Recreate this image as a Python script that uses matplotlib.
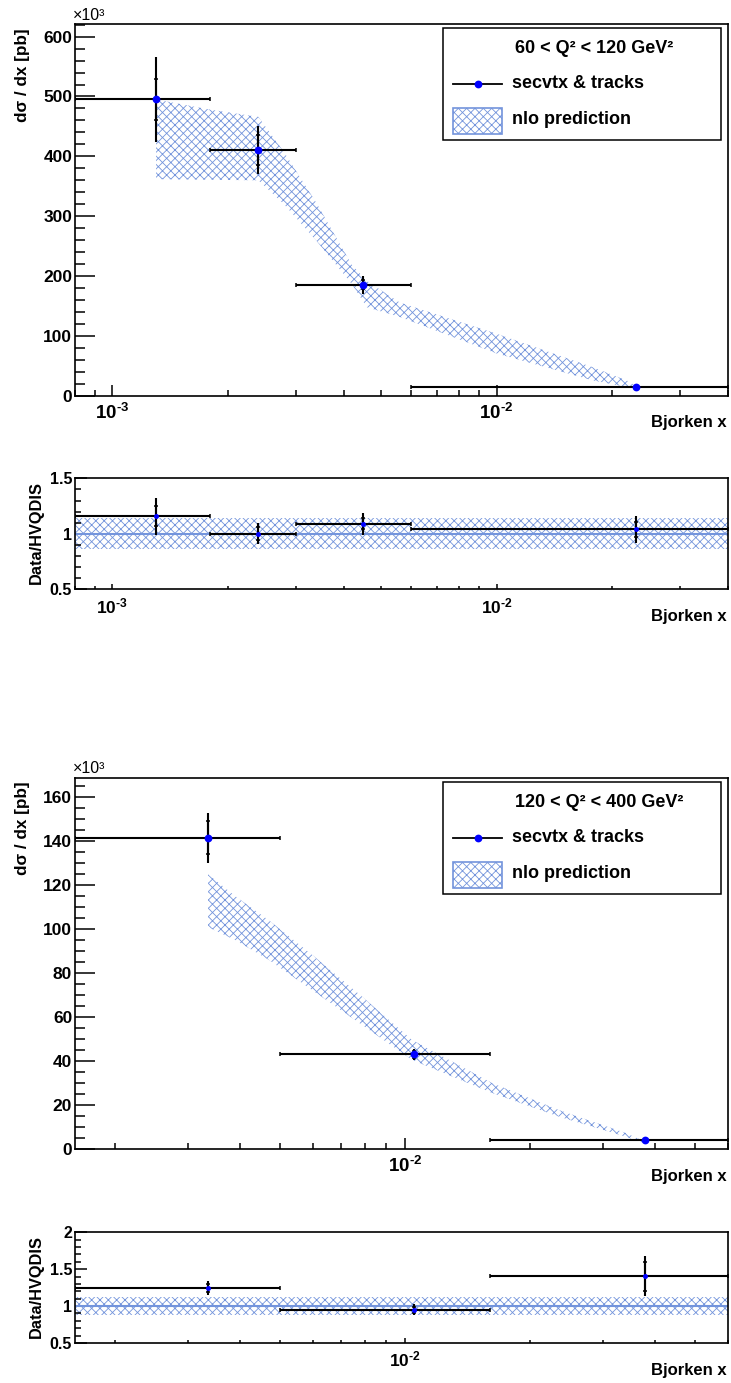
import numpy as np
import matplotlib
matplotlib.use("Agg")
import matplotlib.pyplot as plt
from matplotlib.patches import Rectangle
from matplotlib.lines import Line2D
from matplotlib.ticker import FixedLocator, LogLocator, MultipleLocator, NullFormatter, FuncFormatter

plt.rcParams['font.family'] = ['Liberation Sans', 'DejaVu Sans']
plt.rcParams['font.weight'] = 'bold'
plt.rcParams['mathtext.fontset'] = 'custom'
plt.rcParams['mathtext.rm'] = 'Liberation Sans:bold'
plt.rcParams['mathtext.it'] = 'Liberation Sans:bold'
plt.rcParams['mathtext.bf'] = 'Liberation Sans:bold'
plt.rcParams['hatch.linewidth'] = 0.6

W, H = 731, 1383
BAND = '#7394dc'
HATCH = 'xxxx'

# ---- 60 < Q2 < 120 GeV2 (cross section in 10^3 pb)
q1_title = '60 < Q² < 120 GeV²'
q1_edges = [0.0008, 0.0018, 0.003, 0.006, 0.04]
q1_x = [0.0013, 0.0024, 0.0045, 0.023]
q1_y = [495, 410, 186, 15]
q1_tot = [71, 40, 15, 3]
q1_stat = [35, 25, 8, 1.5]
q1_nlo_x = [0.0013, 0.0018, 0.0024, 0.0028, 0.0034, 0.0042, 0.0046, 0.0056, 0.0100, 0.0178, 0.0218, 0.0230]
q1_nlo_hi = [495, 478, 466, 407, 322, 219, 192, 156, 104, 48, 26, 17]
q1_nlo_lo = [362, 361, 360, 320, 259, 187, 148, 132, 71, 26, 15, 12]
q1_ratio = [1.158, 1.0, 1.089, 1.04]
q1_ratio_tot = [0.165, 0.093, 0.1, 0.12]
q1_ratio_stat = [0.09, 0.06, 0.05, 0.07]
q1_rband_hi = [1.145, 1.14, 1.14, 1.14]
q1_rband_lo = [0.862, 0.863, 0.863, 0.863]

# ---- 120 < Q2 < 400 GeV2
q2_title = '120 < Q² < 400 GeV²'
q2_edges = [0.0016, 0.005, 0.016, 0.06]
q2_x = [0.00334, 0.0105, 0.0378]
q2_y = [141.6, 43.1, 4.1]
q2_tot = [11.5, 2.5, 0.6]
q2_stat = [7.5, 1.5, 0.3]
q2_nlo_x = [0.00335, 0.0039, 0.0047, 0.0060, 0.0078, 0.0104, 0.0162, 0.0235, 0.0340, 0.0372]
q2_nlo_hi = [125, 115, 104, 88, 70, 49.6, 30, 17.7, 7.3, 4.0]
q2_nlo_lo = [101, 95, 86, 72, 57, 40.5, 25.5, 14.7, 5.6, 3.0]
q2_ratio = [1.245, 0.952, 1.404]
q2_ratio_tot = [0.095, 0.07, 0.27]
q2_ratio_stat = [0.06, 0.04, 0.2]
q2_rband_hi = [1.13, 1.13, 1.13]
q2_rband_lo = [0.885, 0.885, 0.885]


def add_axes(fig, left, top, right, bottom):
    return fig.add_axes([left / W, 1 - bottom / H, (right - left) / W, (bottom - top) / H])


def ftext(fig, x, y, s, **kw):
    return fig.text(x / W, 1 - y / H, s, **kw)


def log_label(v, pos):
    return r'$\mathregular{10^{\text{-}%d}}$' % abs(round(np.log10(v)))


def style_axes(ax, xlim, ylim, ymajor, yminor, ylen, xlen, fs):
    ax.set_xscale('log')
    ax.set_xlim(*xlim)
    ax.set_ylim(*ylim)
    ax.xaxis.set_major_locator(FixedLocator([1e-3, 1e-2, 1e-1]))
    ax.xaxis.set_minor_locator(LogLocator(base=10, subs=np.arange(2, 10), numticks=30))
    ax.xaxis.set_minor_formatter(NullFormatter())
    ax.xaxis.set_major_formatter(FuncFormatter(log_label))
    ax.yaxis.set_major_locator(MultipleLocator(ymajor))
    ax.yaxis.set_minor_locator(MultipleLocator(yminor))
    ax.yaxis.set_major_formatter(FuncFormatter(lambda v, p: '%g' % v))
    ax.tick_params(which='both', direction='in', top=False, right=False, width=1.1, labelsize=fs)
    ax.tick_params(axis='y', which='major', length=ylen, pad=2)
    ax.tick_params(axis='y', which='minor', length=ylen / 2)
    ax.tick_params(axis='x', which='major', length=xlen, pad=5, labelsize=fs + 1)
    ax.tick_params(axis='x', which='minor', length=xlen * 0.55)
    for s in ax.spines.values():
        s.set_linewidth(1.2)


def draw_points(ax, x, y, edges, tot, stat, ms):
    xlo = [xi - e for xi, e in zip(x, edges[:-1])]
    xhi = [e - xi for xi, e in zip(x, edges[1:])]
    ax.errorbar(x, y, xerr=[xlo, xhi], fmt='none', ecolor='black', elinewidth=1.5,
                capsize=1.6, capthick=1.1, zorder=3)
    ax.errorbar(x, y, yerr=tot, fmt='none', ecolor='black', elinewidth=1.5, capsize=0, zorder=3)
    ax.errorbar(x, y, yerr=stat, fmt='none', ecolor='black', elinewidth=1.5,
                capsize=1.6, capthick=1.1, zorder=3)
    ax.plot(x, y, 'o', color='#0000ff', ms=ms, mew=0, zorder=5)


def draw_main(fig, top, bottom, ylim, ymajor, yminor, edges, x, y, tot, stat, nx, nhi, nlo, title):
    ax = add_axes(fig, 75, top, 728, bottom)
    style_axes(ax, (edges[0], edges[-1]), ylim, ymajor, yminor, 14.4, 8.2, 12.5)
    ax.fill_between(nx, nlo, nhi, facecolor='none', edgecolor=BAND, hatch=HATCH,
                    linewidth=0, zorder=1)
    draw_points(ax, x, y, edges, tot, stat, 5.6)
    ftext(fig, 23, top + 4, 'dσ / dx [pb]', rotation=90, ha='center', va='top', fontsize=12.3)
    ftext(fig, 73, top - 9, '×10³', ha='left', va='center', fontsize=11.5, fontweight='normal')
    ftext(fig, 727, bottom + 27, 'Bjorken x', ha='right', va='center', fontsize=12)

    # legend box
    lt = top + 4.3
    fig.add_artist(Rectangle((442.7 / W, 1 - (lt + 111.7) / H), 278 / W, 111.7 / H,
                             transform=fig.transFigure, facecolor='white',
                             edgecolor='black', linewidth=1.1, zorder=6))
    ftext(fig, 515, lt + 20.5, title, ha='left', va='center', fontsize=13, zorder=7)
    ye = 1 - (lt + 55.7) / H
    fig.add_artist(Line2D([453 / W, 502 / W], [ye, ye], transform=fig.transFigure,
                          color='black', lw=1.3, zorder=7))
    fig.add_artist(Line2D([477.5 / W], [ye], transform=fig.transFigure, marker='o',
                          color='#0000ff', ms=5.6, mew=0, zorder=8))
    ftext(fig, 512, lt + 55.7, 'secvtx & tracks', ha='left', va='center', fontsize=13, zorder=7)
    fig.add_artist(Rectangle((453.3 / W, 1 - (lt + 106) / H), 48.4 / W, 26 / H,
                             transform=fig.transFigure, facecolor='white', edgecolor=BAND,
                             hatch=HATCH, linewidth=1.2, zorder=7))
    ftext(fig, 512, lt + 91.7, 'nlo prediction', ha='left', va='center', fontsize=13, zorder=7)
    return ax


def draw_ratio(fig, top, bottom, ylim, edges, x, r, rtot, rstat, bhi, blo):
    ax = add_axes(fig, 75, top, 728, bottom)
    style_axes(ax, (edges[0], edges[-1]), ylim, 0.5, 0.1, 8.8, 3.5, 11.5)
    ax.fill_between(edges, bhi + [bhi[-1]], blo + [blo[-1]], step='post', facecolor='none',
                    edgecolor=BAND, hatch=HATCH, linewidth=0, zorder=1)
    ax.axhline(1.0, color=BAND, lw=1.5, zorder=2)
    draw_points(ax, x, r, edges, rtot, rstat, 3.6)
    ftext(fig, 36, top + 3, 'Data/HVQDIS', rotation=90, ha='center', va='top', fontsize=11.8)
    ftext(fig, 727, bottom + 27, 'Bjorken x', ha='right', va='center', fontsize=12)
    return ax


fig = plt.figure(figsize=(W / 100, H / 100), dpi=100)

draw_main(fig, 24, 396, (0, 621), 100, 20, q1_edges, q1_x, q1_y, q1_tot, q1_stat,
          q1_nlo_x, q1_nlo_hi, q1_nlo_lo, q1_title)
draw_ratio(fig, 478.3, 589.3, (0.5, 1.5), q1_edges, q1_x, q1_ratio, q1_ratio_tot,
           q1_ratio_stat, q1_rband_hi, q1_rband_lo)
draw_main(fig, 777.7, 1149, (0, 169), 20, 5, q2_edges, q2_x, q2_y, q2_tot, q2_stat,
          q2_nlo_x, q2_nlo_hi, q2_nlo_lo, q2_title)
draw_ratio(fig, 1232.3, 1343, (0.5, 2.0), q2_edges, q2_x, q2_ratio, q2_ratio_tot,
           q2_ratio_stat, q2_rband_hi, q2_rband_lo)

fig.savefig('out.png', dpi=100)
